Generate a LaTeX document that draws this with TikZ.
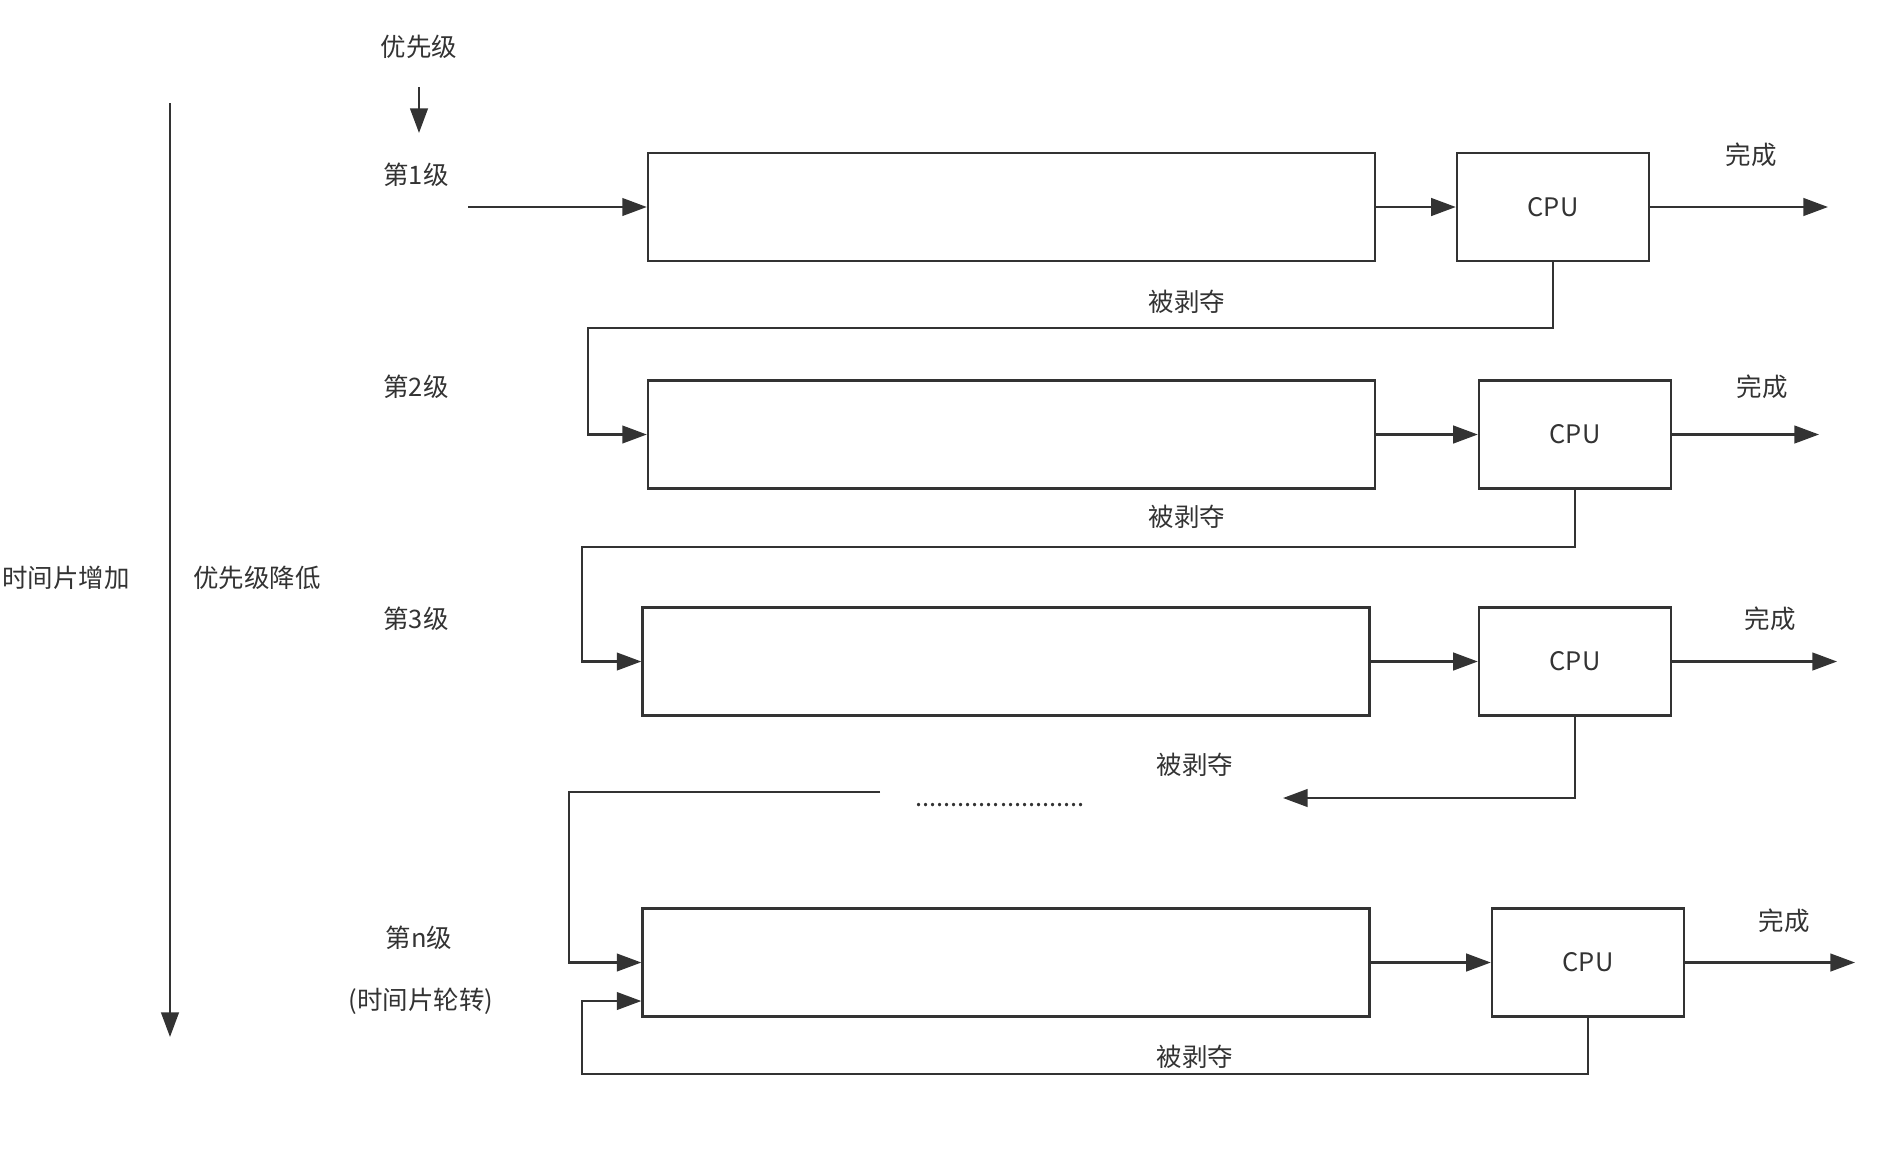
\documentclass[tikz,border=0pt]{standalone}
\usepackage{fontspec}
\newfontfamily\cjk{Noto Sans CJK SC}
\usetikzlibrary{arrows.meta}
\definecolor{ink}{HTML}{333333}

\begin{document}
\begin{tikzpicture}[x=0.02cm, y=-0.02cm,
  every node/.style={font=\cjk\fontsize{14.5}{17}\selectfont, text=ink},
  wire/.style={draw=ink, line width=1.4pt},
  flow/.style={wire, -{Triangle[length=14pt,width=10pt]}},
  qbox/.style={wire, minimum width=14.54cm, minimum height=2.16cm, inner sep=0pt},
  cpubox/.style={wire, minimum width=3.84cm, minimum height=2.16cm, inner sep=0pt}]
  \useasboundingbox (0,0) rectangle (1895,1171);
  % left axis
  \coordinate (ax0) at (170,103);
  \coordinate (ax1) at (170,1037);
  \draw[flow] (ax0) -- (ax1);
  \node (tinc) at (66,578) {时间片增加};
  \node (pdec) at (257,578) {优先级降低};
  % priority hint
  \node (prio) at (419,47) {优先级};
  \coordinate (p0) at (419,87);
  \coordinate (p1) at (419,133);
  \draw[flow] (p0) -- (p1);
  % level labels
  \node (l1) at (416,175) {第1级};
  \node (l2) at (416,387) {第2级};
  \node (l3) at (416,619) {第3级};
  \node (ln) at (419,938) {第n级};
  \node (rr) at (421,1001) {(时间片轮转)};
  % queues and cpus
  \node[qbox] (q1) at (1011.5,207) {};
  \node[qbox] (q2) at (1011.5,434.5) {};
  \node[qbox] (q3) at (1006,661.5) {};
  \node[qbox] (q4) at (1006,962.5) {};
  \node[cpubox] (c1) at (1553,207) {CPU};
  \node[cpubox] (c2) at (1575,434.5) {CPU};
  \node[cpubox] (c3) at (1575,661.5) {CPU};
  \node[cpubox] (c4) at (1588,962.5) {CPU};
  \foreach \i in {1,2,3,4} \draw[flow] (q\i) -- (c\i);
  % finished
  \coordinate (o1) at (1828,207);
  \coordinate (o2) at (1819,434.5);
  \coordinate (o3) at (1837,661.5);
  \coordinate (o4) at (1855,962.5);
  \foreach \i in {1,2,3,4} \draw[flow] (c\i) -- (o\i);
  \node (d1) at (1751,155) {完成};
  \node (d2) at (1762,387) {完成};
  \node (d3) at (1770,619) {完成};
  \node (d4) at (1784,921) {完成};
  % entry
  \coordinate (in) at (468,207);
  \draw[flow] (in) -- (q1);
  % preempted
  \coordinate (k1) at (588,328);
  \coordinate (k2) at (582,547);
  \coordinate (t3) at (1283,798);
  \coordinate (g3) at (880,792);
  \coordinate (k3) at (569,792);
  \coordinate (k4) at (582,1074);
  \draw[flow] (c1.south) |- (k1) |- (q2.west);
  \draw[flow] (c2.south) |- (k2) |- (q3.west);
  \draw[flow] (c3.south) |- (t3);
  \draw[flow] (g3) -- (k3) |- (q4.west);
  \draw[flow] (c4.south) |- (k4) |- (q4.west |- rr);
  \node (dots) at (1000,805) {........................};
  \node (b1) at (1187,302) {被剥夺};
  \node (b2) at (1187,517) {被剥夺};
  \node (b3) at (1195,765) {被剥夺};
  \node (b4) at (1195,1057) {被剥夺};
\end{tikzpicture}
\end{document}
